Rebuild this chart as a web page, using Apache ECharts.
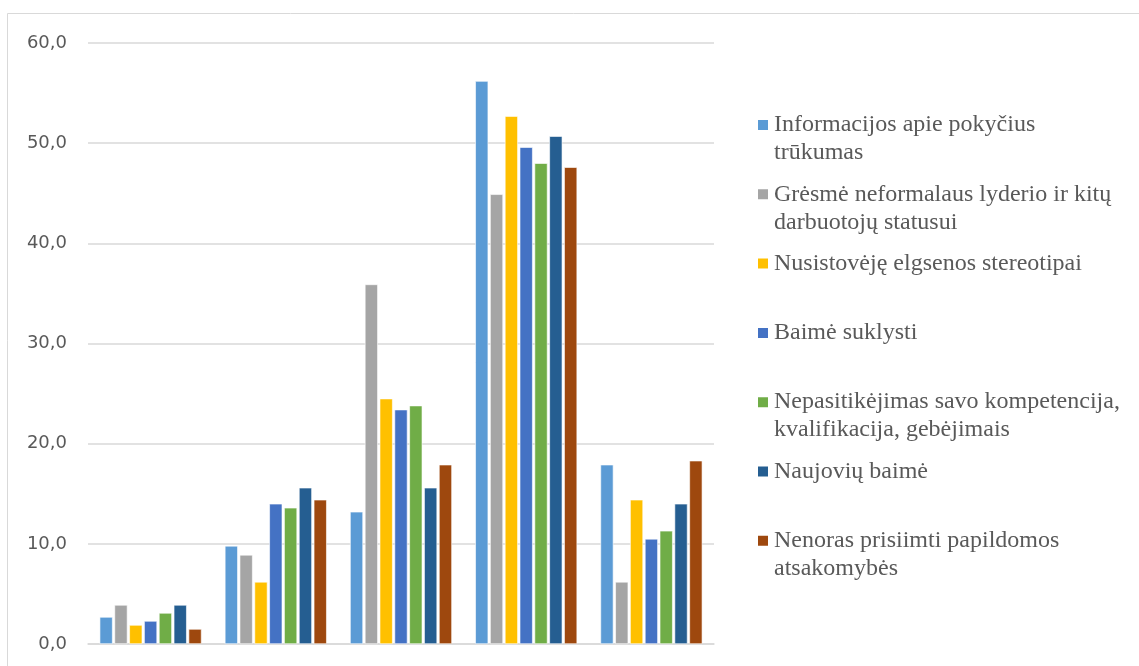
<!DOCTYPE html>
<html>
<head>
<meta charset="utf-8">
<script src="https://cdn.jsdelivr.net/npm/echarts@6/dist/echarts.min.js"></script>
<style>
  html, body { margin: 0; padding: 0; background: #fff; }
  #chart { width: 1139px; height: 666px; }
</style>
</head>
<body>
<div id="chart"></div>
<script>
// Answer groups along the x axis (no labels are drawn for them)
const categories = ['1', '2', '3', '4', '5'];

// Series names and their wrapped legend labels
const seriesNames = [
  'Informacijos apie pokyčius trūkumas',
  'Grėsmė neformalaus lyderio ir kitų darbuotojų statusui',
  'Nusistovėję elgsenos stereotipai',
  'Baimė suklysti',
  'Nepasitikėjimas savo kompetencija, kvalifikacija, gebėjimais',
  'Naujovių baimė',
  'Nenoras prisiimti papildomos atsakomybės'
];
const legendLabels = [
  'Informacijos apie pokyčius\ntrūkumas',
  'Grėsmė neformalaus lyderio ir kitų\ndarbuotojų statusui',
  'Nusistovėję elgsenos stereotipai',
  'Baimė suklysti',
  'Nepasitikėjimas savo kompetencija,\nkvalifikacija, gebėjimais',
  'Naujovių baimė',
  'Nenoras prisiimti papildomos\natsakomybės'
];

// Percentages per series, one value per group
const informacijosTrukumas = [2.7, 9.8, 13.2, 56.2, 17.9];
const gresmeStatusui       = [3.9, 8.9, 35.9, 44.9, 6.2];
const stereotipai          = [1.9, 6.2, 24.5, 52.7, 14.4];
const baimeSuklysti        = [2.3, 14.0, 23.4, 49.6, 10.5];
const nepasitikejimas      = [3.1, 13.6, 23.8, 48.0, 11.3];
const naujoviuBaime        = [3.9, 15.6, 15.6, 50.7, 14.0];
const nenorasAtsakomybes   = [1.5, 14.4, 17.9, 47.6, 18.3];

// Y axis ticks
const yMin = 0, yMax = 60, yStep = 10;

const seriesValues = [
  informacijosTrukumas, gresmeStatusui, stereotipai, baimeSuklysti,
  nepasitikejimas, naujoviuBaime, nenorasAtsakomybes
];
const colors = ['#5B9BD5', '#A5A5A5', '#FFC000', '#4472C4', '#70AD47', '#255E91', '#9E480E'];

const LINE_H = 28;
const legendFirstY = 125;
const legendStep = 69.3;

// One legend block per series so each entry sits in its own slot.
// Legend text is centred on the square, so wrapped labels get blank
// lines prepended to keep the square level with the first line.
const legends = seriesNames.map((name, i) => {
  const lines = legendLabels[i].split('\n').length;
  const label = '\n'.repeat(lines - 1) + legendLabels[i];
  const totalLines = 2 * lines - 1;
  const boxH = totalLines * LINE_H;
  return {
    show: true,
    orient: 'vertical',
    left: 756,
    top: legendFirstY + i * legendStep - boxH / 2,
    itemWidth: 12,
    itemHeight: 12,
    icon: 'rect',
    selectedMode: false,
    padding: 0,
    data: [name],
    formatter: () => label,
    textStyle: {
      fontFamily: '"Liberation Serif", "Times New Roman", serif',
      fontSize: 24,
      color: '#595959',
      lineHeight: LINE_H
    }
  };
});

const chart = echarts.init(document.getElementById('chart'), null, { renderer: 'canvas' });

chart.setOption({
  animation: false,
  backgroundColor: '#ffffff',
  color: colors,
  graphic: [{
    type: 'rect',
    shape: { x: 7.5, y: 13.5, width: 1140, height: 700 },
    style: { fill: 'none', stroke: '#d9d9d9', lineWidth: 1 },
    silent: true,
    z: -1
  }],
  legend: legends,
  grid: { left: 88, right: 425, top: 43, bottom: 22, containLabel: false },
  xAxis: {
    type: 'category',
    data: categories,
    axisLine: { show: true, lineStyle: { color: '#d9d9d9', width: 1.5 } },
    axisTick: { show: false },
    axisLabel: { show: false },
    splitLine: { show: false }
  },
  yAxis: {
    type: 'value',
    min: yMin,
    max: yMax,
    interval: yStep,
    axisLine: { show: false },
    axisTick: { show: false },
    axisLabel: {
      margin: 21,
      fontFamily: '"DejaVu Sans", sans-serif',
      fontSize: 18,
      color: '#595959',
      formatter: v => v.toFixed(1).replace('.', ',')
    },
    splitLine: { lineStyle: { color: '#d9d9d9', width: 1.5 } }
  },
  series: seriesNames.map((name, i) => ({
    name: name,
    type: 'bar',
    data: seriesValues[i],
    barWidth: 13,
    barGap: '14%',
    itemStyle: { color: colors[i], borderColor: '#ffffff', borderWidth: 0.6 }
  }))
});
</script>
</body>
</html>
